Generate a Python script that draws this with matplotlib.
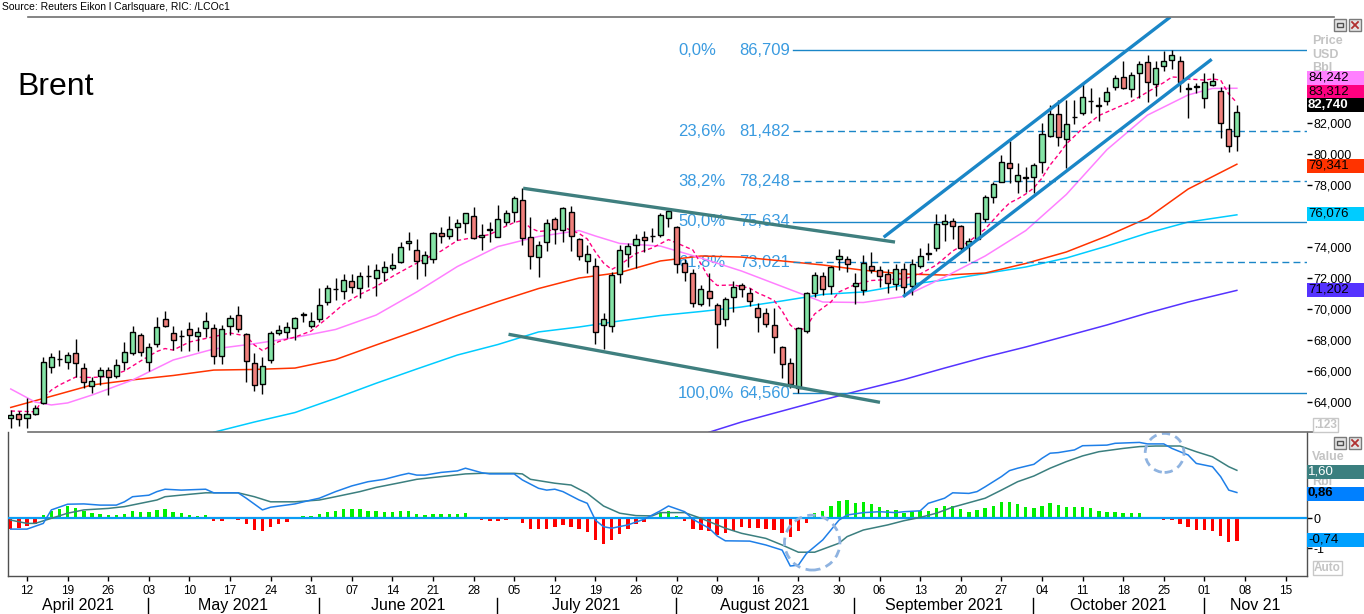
import numpy as np
import pandas as pd
import matplotlib
matplotlib.use("Agg")
import matplotlib.pyplot as plt
from matplotlib.patches import Rectangle, Ellipse
from matplotlib.lines import Line2D

plt.rcParams['font.family'] = ['Liberation Sans', 'DejaVu Sans']

# trading days (Brent front month, LCOc1), first candle 8 Apr 2021
days = pd.bdate_range('2021-04-08', periods=160)

opens = [
    62.97, 63.23, 62.97, 63.23, 63.92, 66.28, 66.80, 66.60, 67.14, 66.17,
    65.05, 65.70, 66.06, 65.68, 66.56, 67.14, 68.32, 66.60, 67.72, 69.34,
    68.47, 68.28, 68.69, 68.26, 68.75, 68.79, 66.99, 68.90, 69.61, 68.39,
    66.54, 65.14, 66.71, 68.43, 68.50, 68.75, 69.66, 68.92, 69.34, 70.47,
    71.30, 71.18, 71.81, 71.37, 72.14, 71.98, 72.37, 72.66, 73.01, 74.24,
    73.81, 72.95, 73.21, 74.88, 74.73, 75.27, 75.53, 76.00, 74.63, 75.13,
    74.66, 75.59, 76.24, 77.03, 74.66, 73.34, 74.34, 75.79, 75.10, 76.24,
    74.52, 73.12, 72.79, 68.97, 68.90, 72.24, 73.53, 74.13, 74.66, 74.70,
    74.77, 75.85, 75.31, 72.95, 72.30, 70.30, 71.16, 70.26, 69.34, 70.79,
    71.55, 71.05, 70.04, 69.72, 68.97, 67.53, 66.50, 64.90, 68.58, 71.01,
    72.10, 71.48, 73.21, 73.21, 71.50, 71.23, 72.79, 72.52, 72.24, 71.59,
    72.56, 71.50, 72.79, 73.58, 73.92, 75.46, 75.68, 75.35, 74.10, 74.52,
    75.81, 77.25, 78.21, 79.40, 78.26, 78.48, 78.50, 79.46, 81.18, 82.58,
    80.95, 82.36, 82.63, 83.44, 83.12, 83.44, 84.30, 84.95, 84.19, 85.21,
    85.92, 84.50, 85.68, 86.06, 86.02, 84.20, 84.34, 83.59, 84.45, 84.08,
    81.59, 81.18]
highs = [
    63.48, 63.45, 64.26, 63.81, 66.90, 67.16, 67.35, 67.25, 68.05, 66.54,
    65.63, 66.28, 66.24, 66.75, 67.89, 68.90, 68.43, 67.79, 69.50, 69.88,
    68.90, 68.65, 69.14, 68.86, 69.83, 69.03, 68.97, 69.61, 70.19, 68.43,
    67.14, 66.88, 68.60, 68.97, 69.14, 69.46, 69.83, 69.79, 71.34, 71.55,
    71.98, 72.24, 72.24, 72.37, 72.84, 72.88, 73.10, 73.59, 74.30, 74.95,
    74.52, 73.74, 74.99, 75.27, 76.00, 75.81, 76.20, 76.56, 75.46, 75.59,
    76.71, 76.39, 77.29, 77.79, 75.95, 74.39, 75.79, 75.95, 76.56, 76.66,
    74.60, 74.13, 73.31, 69.72, 72.41, 74.13, 74.24, 74.82, 75.03, 75.25,
    76.17, 76.45, 75.35, 73.25, 72.55, 71.55, 72.30, 70.40, 70.79, 71.83,
    71.70, 71.34, 70.41, 70.04, 70.04, 67.61, 66.82, 68.86, 71.12, 72.41,
    72.40, 72.80, 73.90, 73.40, 72.30, 73.48, 73.66, 72.79, 72.58, 72.90,
    72.99, 73.21, 73.95, 74.24, 76.13, 76.13, 75.85, 75.42, 74.60, 76.22,
    77.35, 78.17, 79.94, 80.86, 79.40, 79.18, 79.44, 81.98, 83.16, 83.48,
    83.48, 83.48, 84.56, 84.24, 83.66, 84.34, 85.10, 86.02, 85.31, 86.02,
    86.39, 86.02, 86.66, 86.71, 86.32, 84.60, 84.60, 85.21, 85.21, 84.34,
    84.52, 83.16]
lows = [
    62.32, 62.48, 62.34, 63.16, 63.87, 65.89, 66.32, 66.11, 65.63, 64.88,
    64.56, 65.10, 64.45, 65.53, 66.06, 67.03, 66.97, 66.02, 67.57, 68.86,
    67.35, 67.29, 67.31, 67.29, 68.17, 66.43, 66.43, 68.32, 68.50, 65.27,
    64.71, 64.50, 66.50, 68.32, 68.11, 68.00, 69.18, 68.75, 69.18, 70.26,
    70.58, 70.65, 71.05, 70.69, 71.44, 70.86, 71.83, 72.52, 72.95, 73.81,
    71.94, 72.15, 72.95, 74.28, 74.52, 74.45, 74.92, 74.50, 73.81, 74.30,
    74.63, 75.42, 75.59, 74.13, 72.56, 72.08, 73.76, 74.19, 74.34, 73.76,
    73.16, 72.30, 67.72, 67.40, 68.54, 71.70, 72.73, 72.66, 73.70, 74.30,
    74.66, 75.31, 72.30, 71.80, 70.10, 70.20, 70.19, 67.50, 68.90, 69.80,
    70.80, 70.19, 68.50, 68.86, 67.18, 65.53, 64.88, 64.56, 68.47, 70.77,
    70.90, 71.00, 72.50, 72.40, 70.30, 70.90, 72.34, 71.44, 71.05, 71.23,
    70.90, 70.90, 72.62, 73.16, 73.74, 74.41, 74.50, 73.81, 73.10, 74.45,
    75.64, 76.84, 78.17, 78.11, 77.46, 77.57, 77.50, 78.75, 81.12, 80.52,
    79.08, 81.94, 82.52, 82.66, 82.13, 83.16, 84.13, 84.17, 83.66, 83.59,
    83.34, 83.76, 85.37, 85.47, 84.02, 82.30, 83.92, 82.99, 84.39, 81.05,
    80.15, 80.21]
closes = [
    63.16, 62.91, 63.23, 63.61, 66.56, 66.88, 66.77, 67.03, 66.50, 65.27,
    65.35, 66.06, 65.59, 66.39, 67.21, 68.50, 67.21, 67.53, 68.82, 68.92,
    68.00, 68.24, 68.32, 68.50, 69.24, 66.99, 68.71, 69.40, 68.69, 66.65,
    65.10, 66.34, 68.43, 68.65, 68.82, 69.40, 69.63, 69.24, 70.26, 71.34,
    71.27, 71.87, 71.44, 72.15, 72.12, 72.52, 72.69, 72.84, 73.98, 74.39,
    73.10, 73.48, 74.92, 74.73, 75.16, 75.53, 76.17, 74.60, 74.77, 75.11,
    75.79, 76.17, 77.14, 74.56, 73.42, 74.13, 75.53, 75.14, 76.50, 74.73,
    73.44, 73.53, 68.54, 69.34, 72.19, 73.81, 74.06, 74.52, 74.45, 74.72,
    76.06, 76.34, 72.88, 72.41, 70.39, 71.29, 70.69, 69.01, 70.63, 71.40,
    71.29, 70.53, 69.46, 69.03, 68.17, 66.43, 65.14, 68.75, 71.01, 72.19,
    71.30, 72.73, 73.42, 72.90, 71.66, 72.99, 72.52, 72.15, 71.66, 72.56,
    71.44, 72.88, 73.44, 73.60, 75.46, 75.68, 75.35, 73.92, 74.36, 76.17,
    77.21, 78.06, 79.50, 79.08, 78.65, 78.47, 79.29, 81.27, 82.58, 81.08,
    81.94, 82.37, 83.66, 83.43, 83.13, 83.98, 84.88, 84.28, 85.10, 85.79,
    84.63, 85.53, 86.00, 86.39, 84.66, 84.24, 84.35, 84.66, 84.71, 81.98,
    80.52, 82.74]

# moving averages (day index, price)
ma_fast_idx = [0, 3, 4, 5, 6, 8, 10, 12, 14, 16, 18, 19, 20, 22, 24, 27, 29, 30, 31, 33,
               35, 37, 39, 41, 43, 45, 47, 49, 51, 53, 55, 57, 59, 61, 62, 63, 64, 65, 67, 68,
               70, 71, 72, 73, 74, 75, 77, 79, 81, 82, 84, 86, 87, 89, 91, 92, 93, 94, 95, 96,
               97, 98, 99, 101, 102, 104, 106, 108, 110, 112, 114, 115, 116, 118, 120, 121, 122, 123, 124, 125,
               126, 127, 128, 129, 130, 132, 134, 136, 138, 140, 142, 143, 144, 145, 147, 148, 149, 150, 151]
ma_fast_val = [63.42, 63.37, 64.23, 64.77, 65.10, 65.61, 65.58, 65.65, 66.00, 66.65,
               67.26, 67.45, 67.35, 67.87, 68.10, 68.45, 68.26, 67.68, 67.32, 67.90,
               68.19, 68.58, 69.42, 70.32, 70.94, 71.45, 72.10, 72.68, 73.23, 73.74,
               74.42, 74.61, 74.81, 75.35, 75.58, 75.71, 75.23, 75.00, 75.10, 75.29,
               74.87, 74.52, 73.68, 72.97, 72.55, 72.84, 73.58, 73.94, 74.48, 74.26,
               73.81, 72.00, 71.52, 71.55, 71.35, 71.03, 70.81, 70.55, 69.87, 68.97,
               68.54, 68.87, 69.68, 70.45, 71.10, 71.58, 71.84, 71.90, 71.94, 72.26,
               72.84, 73.29, 73.74, 74.35, 75.16, 75.74, 76.32, 76.84, 77.10, 77.42,
               77.81, 78.45, 79.29, 79.94, 80.65, 81.65, 82.48, 82.94, 83.39, 84.00,
               84.61, 84.97, 84.94, 84.84, 84.77, 84.84, 84.77, 83.87, 83.312]

ma20_idx = [0, 3, 5, 7, 10, 15, 20, 25, 30, 35, 40, 45, 50, 55, 60, 65, 70, 72, 75, 80,
            85, 90, 95, 100, 105, 110, 115, 120, 125, 130, 135, 140, 145, 148, 151]
ma20_val = [64.84, 64.00, 63.81, 63.94, 64.45, 65.42, 66.71, 67.42, 67.76, 68.16,
            68.68, 69.61, 71.10, 72.74, 74.03, 74.68, 75.06, 74.71, 74.23, 74.06,
            73.29, 72.45, 71.45, 70.45, 70.42, 70.81, 72.06, 73.42, 75.06, 77.39,
            80.28, 82.51, 83.81, 84.23, 84.242]

ma50_idx = [0, 5, 10, 15, 20, 25, 30, 35, 40, 45, 50, 55, 60, 65, 70, 75, 80, 85, 90, 95,
            100, 105, 110, 115, 120, 125, 130, 135, 140, 145, 151]
ma50_val = [63.65, 64.37, 65.10, 65.43, 65.71, 66.06, 66.10, 66.19, 66.74, 67.68,
            68.61, 69.58, 70.48, 71.32, 72.00, 72.35, 73.10, 73.42, 73.35, 73.10,
            72.84, 72.50, 72.26, 72.19, 72.32, 72.94, 73.68, 74.71, 75.87, 77.74,
            79.341]

ma100_idx = [25, 30, 35, 40, 45, 50, 55, 60, 65, 70, 75, 80, 85, 90, 95, 100, 105, 110, 115, 120,
             125, 130, 135, 140, 145, 151]
ma100_val = [62.05, 62.71, 63.32, 64.24, 65.21, 66.13, 67.03, 67.71, 68.52, 68.84,
             69.23, 69.58, 69.84, 70.13, 70.52, 70.94, 71.10, 71.55, 71.87, 72.29,
             72.71, 73.29, 74.06, 74.90, 75.61, 76.076]

ma200_idx = [86, 90, 95, 100, 105, 110, 115, 120, 125, 130, 135, 140, 145, 151]
ma200_val = [62.05, 62.71, 63.42, 64.13, 64.80, 65.45, 66.19, 66.90, 67.55, 68.26,
             68.97, 69.74, 70.45, 71.202]

# MACD panel
macd_idx = [0, 2, 4, 5, 7, 9, 11, 13, 14, 15, 17, 18, 19, 21, 24, 25, 28, 29, 31, 32,
            35, 37, 38, 40, 42, 44, 46, 48, 49, 50, 51, 53, 55, 56, 58, 59, 62, 63, 65, 66,
            67, 68, 70, 71, 72, 73, 74, 76, 78, 80, 81, 83, 84, 86, 87, 88, 91, 93, 95, 96,
            97, 98, 100, 101, 102, 103, 105, 107, 109, 110, 112, 113, 115, 116, 118, 119, 120, 122, 123, 124,
            126, 127, 128, 129, 131, 132, 135, 136, 139, 140, 142, 143, 145, 146, 148, 149, 150, 151]
macd_val = [-0.36, -0.36, -0.17, 0.28, 0.47, 0.48, 0.44, 0.44, 0.55, 0.72,
            0.77, 0.89, 0.97, 0.94, 0.97, 0.85, 0.85, 0.67, 0.28, 0.37,
            0.48, 0.61, 0.67, 0.89, 1.08, 1.22, 1.30, 1.44, 1.50, 1.44,
            1.44, 1.53, 1.58, 1.67, 1.52, 1.48, 1.48, 1.28, 1.00, 0.94,
            0.97, 0.89, 0.61, 0.50, -0.06, -0.28, -0.33, -0.22, -0.03, 0.25,
            0.41, 0.22, -0.03, -0.33, -0.59, -0.75, -0.76, -0.89, -1.06, -1.59,
            -1.56, -1.17, -0.72, -0.39, -0.06, 0.11, 0.19, 0.22, 0.19, 0.22,
            0.25, 0.50, 0.67, 0.85, 0.83, 0.89, 1.05, 1.39, 1.59, 1.67,
            1.80, 2.00, 2.17, 2.19, 2.28, 2.42, 2.44, 2.50, 2.53, 2.48,
            2.48, 2.33, 2.11, 1.83, 1.72, 1.39, 0.94, 0.86]
sig_idx = [0, 2, 3, 5, 7, 9, 12, 14, 16, 18, 19, 22, 24, 28, 30, 32, 35, 38, 40, 43,
           45, 48, 50, 53, 56, 58, 62, 63, 64, 67, 69, 71, 73, 75, 77, 79, 80, 83, 85, 88,
           90, 93, 95, 97, 99, 100, 102, 103, 105, 108, 110, 112, 114, 116, 118, 120, 122, 124, 126, 128,
           130, 132, 134, 137, 139, 141, 144, 146, 148, 150, 151]
sig_val = [-0.06, -0.17, -0.17, 0.00, 0.17, 0.28, 0.33, 0.39, 0.50, 0.61,
           0.72, 0.80, 0.85, 0.85, 0.72, 0.55, 0.55, 0.61, 0.72, 0.89,
           1.03, 1.19, 1.30, 1.39, 1.48, 1.50, 1.50, 1.48, 1.30, 1.17,
           1.11, 0.83, 0.41, 0.17, 0.09, 0.08, 0.19, 0.19, 0.00, -0.33,
           -0.50, -0.67, -0.89, -1.13, -1.13, -1.03, -0.83, -0.61, -0.39, -0.22,
           -0.08, 0.03, 0.17, 0.37, 0.52, 0.67, 0.94, 1.22, 1.41, 1.67,
           1.89, 2.08, 2.22, 2.33, 2.39, 2.41, 2.41, 2.22, 2.05, 1.72,
           1.60]
hist_val = [
    -0.36, -0.33, -0.26, -0.19, 0.10, 0.26, 0.32, 0.41, 0.36, 0.26,
    0.17, 0.14, 0.11, 0.11, 0.14, 0.26, 0.22, 0.22, 0.28, 0.30,
    0.22, 0.17, 0.11, 0.09, 0.12, -0.08, -0.08, 0.00, -0.06, -0.19,
    -0.39, -0.41, -0.30, -0.20, -0.12, 0.00, 0.09, 0.09, 0.13, 0.22,
    0.26, 0.30, 0.30, 0.30, 0.26, 0.26, 0.22, 0.22, 0.26, 0.26,
    0.14, 0.11, 0.14, 0.14, 0.14, 0.14, 0.19, 0.06, -0.06, -0.09,
    -0.09, -0.06, 0.00, -0.17, -0.36, -0.37, -0.34, -0.30, -0.21, -0.28,
    -0.37, -0.44, -0.72, -0.87, -0.72, -0.53, -0.37, -0.19, -0.11, 0.03,
    0.17, 0.26, 0.08, -0.09, -0.34, -0.39, -0.42, -0.57, -0.50, -0.41,
    -0.30, -0.31, -0.33, -0.37, -0.39, -0.50, -0.63, -0.42, -0.14, 0.17,
    0.26, 0.41, 0.58, 0.61, 0.50, 0.53, 0.48, 0.39, 0.28, 0.28,
    0.17, 0.22, 0.26, 0.26, 0.36, 0.41, 0.42, 0.30, 0.22, 0.28,
    0.36, 0.41, 0.56, 0.56, 0.48, 0.39, 0.36, 0.41, 0.50, 0.44,
    0.39, 0.37, 0.37, 0.36, 0.26, 0.22, 0.22, 0.19, 0.17, 0.17,
    0.06, 0.00, -0.06, -0.06, -0.20, -0.30, -0.39, -0.39, -0.42, -0.59,
    -0.80, -0.74]

# Fibonacci retracement
fib_pct = ['0,0%', '23,6%', '38,2%', '50,0%', '61,8%', '100,0%']
fib_val = [86.709, 81.482, 78.248, 75.634, 73.021, 64.560]
fib_dashed = [False, True, True, False, True, False]

# hand-drawn trend lines (day index, price)
down_upper = ([63.1, 108.9], [77.79, 74.32])
down_lower = ([61.3, 107.05], [68.37, 63.98])
up_upper = ([107.5, 142.8], [74.63, 88.84])
up_lower = ([109.9, 147.9], [70.79, 86.11])

month_names = ['April 2021', 'May 2021', 'June 2021', 'July 2021', 'August 2021',
               'September 2021', 'October 2021', 'Nov 21']

W, H = 1364, 614
fig = plt.figure(figsize=(W / 100, H / 100), dpi=100)
fig.patch.set_facecolor('white')

def fx(x):
    return x / W

def fy(y):
    return 1 - y / H

X0, X1 = 7.6, 1306.7
ax = fig.add_axes([fx(X0), fy(432), fx(X1) - fx(X0), (432 - 17) / H])
ax2 = fig.add_axes([fx(X0), fy(575.7), fx(X1) - fx(X0), (575.7 - 432.3) / H])

xlim = (-0.39, 159.6)

# ---------- price panel ----------
n = len(closes)
idx = np.arange(n)
o = np.array(opens); c = np.array(closes)
hi = np.array(highs); lo = np.array(lows)
up = c >= o
ax.vlines(idx, lo, hi, color='black', lw=1.0, zorder=4)
ax.bar(idx, np.maximum(np.abs(c - o), 0.02), bottom=np.minimum(o, c), width=0.62,
       color=np.where(up, '#84e4a6', '#f0807c'), edgecolor='black', linewidth=1.0, zorder=5)

ax.plot(ma200_idx, ma200_val, color='#5533ff', lw=1.1, zorder=2)
ax.plot(ma100_idx, ma100_val, color='#00ccff', lw=1.1, zorder=2)
ax.plot(ma50_idx, ma50_val, color='#ff3300', lw=1.1, zorder=2)
ax.plot(ma20_idx, ma20_val, color='#ff80ff', lw=1.1, zorder=2)
ax.plot(ma_fast_idx, ma_fast_val, color='#ff0080', lw=1.0, ls=(0, (3, 2)), zorder=3)

fib_col = '#1a86c7'
for pct, val, dsh in zip(fib_pct, fib_val, fib_dashed):
    ax.plot([96.3, xlim[1]], [val, val], color=fib_col, lw=1.0,
            ls=(0, (5, 3)) if dsh else '-', zorder=2)
    ax.text(82.2, val, pct, color='#3a9be0', fontsize=12, ha='left', va='center', zorder=1)
    ax.text(95.97, val, f"{val:.3f}".replace('.', ','), color='#3a9be0', fontsize=12,
            ha='right', va='center', zorder=1)

for xs, ys in (down_upper, down_lower):
    ax.plot(xs, ys, color='#3f7f7f', lw=2.4, zorder=6, solid_capstyle='butt')
for xs, ys in (up_upper, up_lower):
    ax.plot(xs, ys, color='#1a86c7', lw=2.4, zorder=6, solid_capstyle='butt')

ax.set_xlim(xlim)
ax.set_ylim(62.065, 88.839)
ax.set_xticks([])
for s in ax.spines.values():
    s.set_visible(False)
ax.yaxis.tick_right()
pticks = np.arange(64, 83, 2)
ax.set_yticks(pticks)
# the 76 label sits fully under the last-value tag of the 100-day line
ax.set_yticklabels(['' if v == 76 else f"{v:.3f}".replace('.', ',') for v in pticks])
ax.tick_params(axis='y', length=3.5, width=1, pad=1.5, labelsize=9, colors='black')
ax.patch.set_alpha(0)

# ---------- MACD panel ----------
hv = np.array(hist_val)
ax2.bar(idx, hv, width=0.42, color=np.where(hv >= 0, '#00f000', '#ff0000'), zorder=3)
ax2.axhline(0, color='#0b9cf5', lw=1.6, zorder=4)
ax2.plot(sig_idx, sig_val, color='#3b7f7f', lw=1.1, zorder=5)
ax2.plot(macd_idx, macd_val, color='#1e7fe8', lw=1.1, zorder=5)
ax2.add_patch(Ellipse((98.7, -0.81), 6.83, 1.83, fill=False, ec='#8fb3e0', lw=2.0,
                      ls=(0, (3, 2)), zorder=6, clip_on=False))
ax2.add_patch(Ellipse((142.1, 2.18), 4.78, 1.3, fill=False, ec='#8fb3e0', lw=2.0,
                      ls=(0, (3, 2)), zorder=6, clip_on=False))

ax2.set_xlim(xlim)
ax2.set_ylim(-1.913, 2.867)
ax2.spines['top'].set_visible(False)
for k in ('left', 'right', 'bottom'):
    ax2.spines[k].set_color('#505050')
    ax2.spines[k].set_linewidth(1.0)
ax2.yaxis.tick_right()
ax2.set_yticks([0, -1])
ax2.set_yticklabels(['0', '-1'])
ax2.tick_params(axis='y', length=3.5, width=1, pad=1.5, labelsize=9)

mondays = [i for i, d in enumerate(days) if d.weekday() == 0]
ax2.set_xticks(mondays)
ax2.set_xticklabels([days[i].strftime('%d') for i in mondays])
ax2.tick_params(axis='x', length=3.5, width=1, pad=3, labelsize=8.5, colors='black')

# month separators and names
firsts = [i for i in range(1, len(days)) if days[i].month != days[i - 1].month]
edges = [xlim[0]] + [f - 0.1 for f in firsts] + [xlim[1]]
trans = ax2.get_xaxis_transform()
for f in firsts:
    ax2.plot([f - 0.1, f - 0.1], [-0.155, -0.27], color='black', lw=1.0,
             transform=trans, clip_on=False)
for k, name in enumerate(month_names):
    ax2.text((edges[k] + edges[k + 1]) / 2, -0.205, name, transform=trans,
             ha='center', va='center', fontsize=11.5)

# ---------- frame pieces and labels ----------
fig.add_artist(Line2D([fx(28), fx(1334)], [fy(17), fy(17)], color='#707070', lw=1.2))
fig.add_artist(Line2D([fx(28), fx(1334)], [fy(432.3), fy(432.3)], color='#707070', lw=1.2))

fig.text(fx(2), fy(7), 'Source: Reuters Eikon l Carlsquare, RIC: /LCOc1', fontsize=7.5,
         ha='left', va='center')
fig.text(fx(17), fy(87), 'Brent', fontsize=23, ha='left', va='center')

for yy, txt in ((41, 'Price'), (55, 'USD'), (68, 'Bbl'), (457, 'Value'), (482, 'Rbl')):
    fig.text(fx(1312), fy(yy), txt, color='#c4c4c4', fontsize=9, fontweight='bold',
             ha='left', va='center')
for yy, txt in ((425, '.123'), (568, 'Auto')):
    fig.text(fx(1314), fy(yy), txt, color='#c4c4c4', fontsize=8.5, fontweight='bold',
             ha='left', va='center',
             bbox=dict(boxstyle='square,pad=0.12', fc='white', ec='#c8c8c8', lw=1))

def window_icons(ytop):
    for x0 in (1334, 1349):
        fig.add_artist(Rectangle((fx(x0), fy(ytop + 12)), 12 / W, 12 / H,
                                 transform=fig.transFigure, fc='#e4e4e4', ec='#7a7a7a', lw=1))
    fig.add_artist(Rectangle((fx(1337), fy(ytop + 8)), 6 / W, 4 / H,
                             transform=fig.transFigure, fc='none', ec='#505050', lw=1))
    fig.add_artist(Line2D([fx(1352), fx(1358)], [fy(ytop + 3), fy(ytop + 9)], color='#b03030', lw=1.3))
    fig.add_artist(Line2D([fx(1352), fx(1358)], [fy(ytop + 9), fy(ytop + 3)], color='#b03030', lw=1.3))

window_icons(19)
window_icons(437)

def tag(yc, text, bg, fg='black', bold=False):
    fig.add_artist(Rectangle((fx(1307), fy(yc + 7)), 57 / W, 14 / H,
                             transform=fig.transFigure, fc=bg, ec='none', zorder=5))
    fig.text(fx(1308), fy(yc), text, color=fg, fontsize=9.5,
             fontweight='bold' if bold else 'normal', ha='left', va='center', zorder=6)

def num(v, d=3):
    return f"{v:.{d}f}".replace('.', ',')

tag(78, num(ma20_val[-1]), '#ff80ff')
tag(92, num(ma_fast_val[-1]), '#ff0080')
tag(105, num(closes[-1]), 'black', fg='white', bold=True)
tag(166, num(ma50_val[-1]), '#ff3300')
tag(214, num(ma100_val[-1]), '#00ccff')
tag(290, num(ma200_val[-1]), '#5533ff')
tag(472, num(sig_val[-1], 2), '#3b7f7f', fg='white')
tag(493.5, num(macd_val[-1], 2), '#0080ff', bold=True)
tag(540, num(hist_val[-1], 2), '#00a0ff')

fig.savefig('out.png', dpi=100)
